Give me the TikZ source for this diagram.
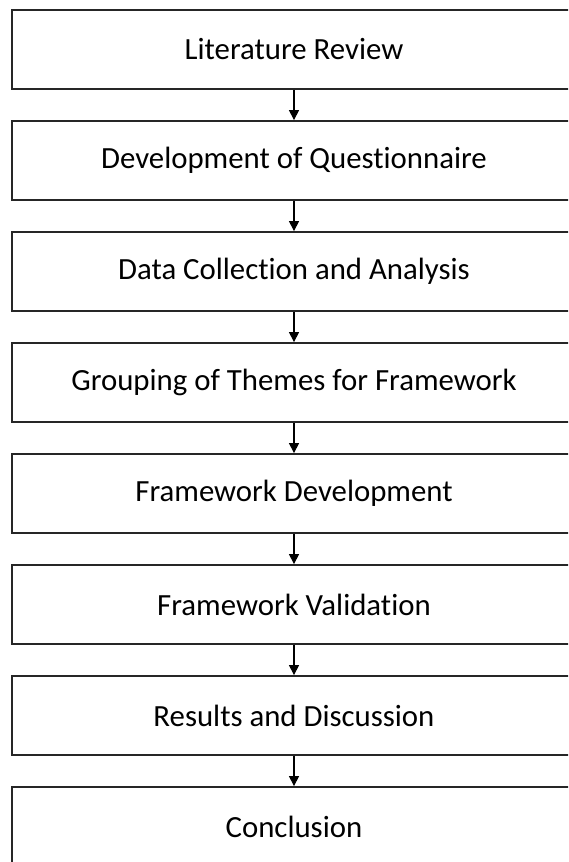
\documentclass[tikz,border=0pt]{standalone}
\usepackage{fontspec}
\setmainfont{Carlito}[Ligatures={NoCommon}]
\usetikzlibrary{arrows.meta}
\begin{document}
\begin{tikzpicture}[x=1pt,y=-1pt,
  stage/.style={draw=black!85, line width=1.8pt, minimum width=564pt, minimum height=79pt,
    inner sep=0pt, font=\fontsize{30.8}{36}\selectfont, text=black},
  flow/.style={line width=1.1pt, -{Triangle[width=10pt,length=10pt]}}]
  \useasboundingbox (0,0) rectangle (568,862);
  \clip (0,0) rectangle (568,862);
  \fill[white] (0,0) rectangle (568,862);
  \foreach \name/\label [count=\i from 0] in {
      lit/Literature Review,
      quest/Development of Questionnaire,
      data/Data Collection and Analysis,
      group/Grouping of Themes for Framework,
      fwdev/Framework Development,
      fwval/Framework Validation,
      res/Results and Discussion,
      conc/Conclusion}
    \node[stage] (\name) at (294, 49.5+111*\i) {\label};
  \draw[flow] (lit) -- (quest);
  \draw[flow] (quest) -- (data);
  \draw[flow] (data) -- (group);
  \draw[flow] (group) -- (fwdev);
  \draw[flow] (fwdev) -- (fwval);
  \draw[flow] (fwval) -- (res);
  \draw[flow] (res) -- (conc);
\end{tikzpicture}
\end{document}
